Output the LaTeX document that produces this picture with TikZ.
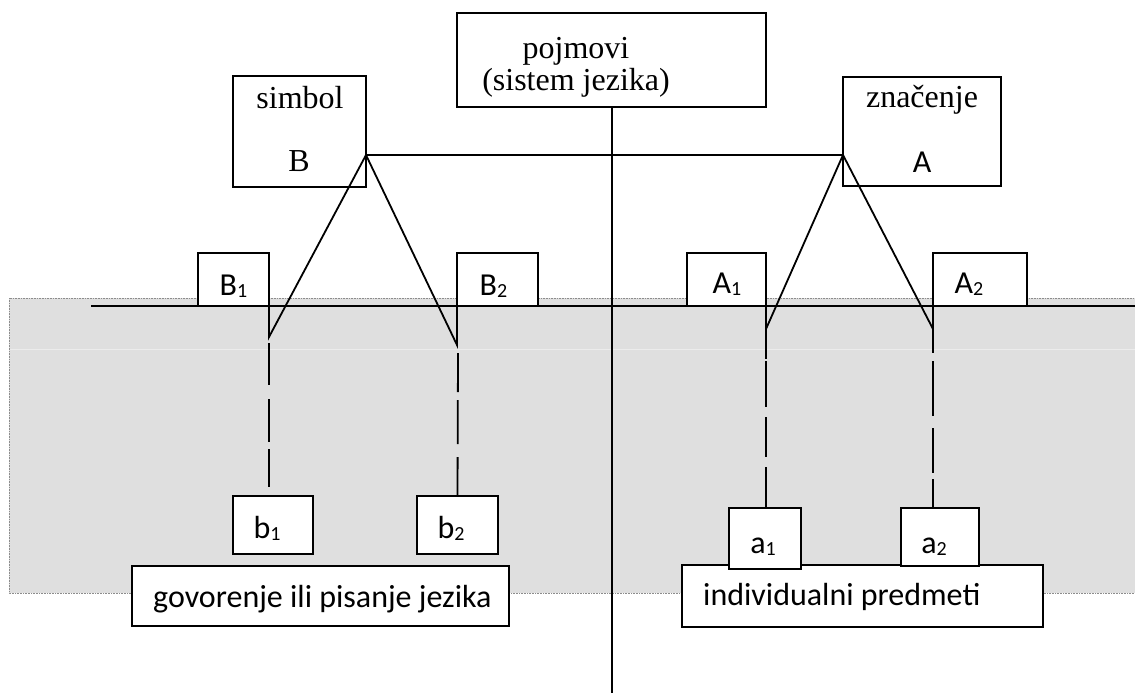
\documentclass[tikz,border=0pt]{standalone}
\usepackage{fontspec}
\setmainfont{Liberation Serif}
\newfontfamily\calib{Carlito}
\definecolor{bggray}{RGB}{223,223,223}
\definecolor{bgline}{RGB}{236,236,236}
\definecolor{dotgray}{RGB}{140,140,140}
\begin{document}
\begin{tikzpicture}[x=1pt,y=-1pt,
  bx/.style={draw,line width=1.8pt,fill=white,rectangle,inner sep=0pt,outer sep=0pt},
  ln/.style={line width=1.8pt,line cap=butt},
  ser/.style={inner sep=0pt,anchor=base,font=\fontsize{32}{38}\selectfont},
  sans/.style={inner sep=0pt,anchor=base,font=\calib\fontsize{32}{38}\selectfont},
  sansw/.style={inner sep=0pt,anchor=base west,font=\calib\fontsize{32}{38}\selectfont}]
\newcommand{\sbs}[1]{\raisebox{-2pt}{\fontsize{20}{20}\selectfont #1}}
\useasboundingbox (0,0) rectangle (1135,693);
% gray region
\fill[bggray] (9,298) rectangle (1140,593);
\draw[line width=0.6pt,dotgray,densely dotted] (1140,298) -- (9,298) -- (9,593) -- (1140,593);
\draw[line width=0.8pt,bgline] (10,349) -- (1135,349);
% coordinates
\coordinate (hL) at (91,306);
\coordinate (hR) at (1135,306);
\coordinate (pB) at (366,155);
\coordinate (pA) at (843,155);
\coordinate (vB1) at (269,337);
\coordinate (vB2) at (457,345);
\coordinate (vA1) at (766,329);
\coordinate (vA2) at (933,329);
\coordinate (cTop) at (612,106);
\coordinate (cEnd) at (612,693);
% horizontal baseline
\draw[ln] (hL) -- (hR);
% top boxes
\node[bx,minimum width=309,minimum height=94] (bP) at (611.5,60) {};
\node[bx,minimum width=133,minimum height=111] (bS) at (299.5,131.5) {};
\node[bx,minimum width=158,minimum height=109] (bZ) at (922,131.5) {};
% middle boxes
\node[bx,minimum width=71,minimum height=53] (bB1) at (233.5,279.5) {};
\node[bx,minimum width=81,minimum height=53] (bB2) at (497.5,279.5) {};
\node[bx,minimum width=79,minimum height=53] (bA1) at (726.5,279.5) {};
\node[bx,minimum width=94,minimum height=53] (bA2) at (980,279.5) {};
% bottom wide boxes
\node[bx,minimum width=377,minimum height=60] (bG) at (320.5,596) {};
\node[bx,minimum width=361,minimum height=62] (bI) at (862.5,596) {};
% small bottom boxes
\node[bx,minimum width=80,minimum height=58] (bb1) at (273,525) {};
\node[bx,minimum width=81,minimum height=58] (bb2) at (457.5,525) {};
\node[bx,minimum width=72,minimum height=61] (ba1) at (765,538.5) {};
\node[bx,minimum width=78,minimum height=58] (ba2) at (940,537) {};
% connectors
\draw[ln] (cTop) -- (cEnd);
\draw[ln] (pB) -- (pA);
\draw[ln,line join=miter] (bB1.south east) -- (vB1) -- (pB) -- (vB2) -- (bB2.south west);
\draw[ln,line join=miter] (bA1.south east) -- (vA1) -- (pA) -- (vA2) -- (bA2.south west);
% dashed drops
\draw[ln,dash pattern=on 42pt off 14pt on 43pt off 7pt on 40pt] (269,343) -- (269,487);
\draw[ln,dash pattern=on 39pt off 8pt on 44pt off 13pt on 45pt] (458,353) -- (bb2.north);
\draw[ln,dash pattern=on 30pt off 2pt on 46pt off 10pt on 40pt off 10pt on 50pt] (vA1) -- (vA1 |- ba1.north);
\draw[ln,dash pattern=on 24pt off 8pt on 55pt off 12pt on 45pt off 6pt on 40pt] (vA2) -- (vA2 |- ba2.north);
% texts
\node[ser] (tP1) at (576,59) {pojmovi};
\node[ser] (tP2) at (576,90) {(sistem jezika)};
\node[ser] (tS) at (300,108) {simbol};
\node[ser] (tSB) at (299,171) {B};
\node[ser] (tZ) at (922,107) {značenje};
\node[sans] (tZA) at (922,172) {A};
\node[sans] (tB1) at (233.5,295) {B\sbs{1}};
\node[sans] (tB2) at (493.5,295) {B\sbs{2}};
\node[sans] (tA1) at (727,293) {A\sbs{1}};
\node[sans] (tA2) at (969,293) {A\sbs{2}};
\node[sans] (tb1) at (267,538) {b\sbs{1}};
\node[sans] (tb2) at (451,538) {b\sbs{2}};
\node[sans] (ta1) at (763,553) {a\sbs{1}};
\node[sans] (ta2) at (934,553) {a\sbs{2}};
\node[sansw] (tG) at (153,607) {govorenje ili pisanje jezika};
\node[sansw] (tI) at (703,605) {individualni predmeti};
\end{tikzpicture}
\end{document}
